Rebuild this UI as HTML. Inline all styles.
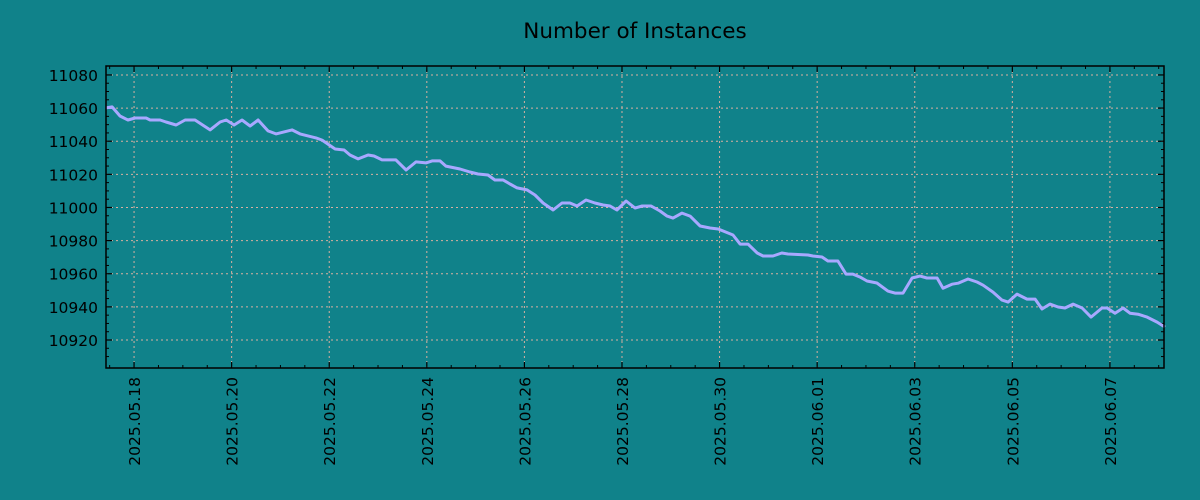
<!DOCTYPE html>
<html><head><meta charset="utf-8"><style>
html,body{margin:0;padding:0;background:#10828a;}
svg{display:block;font-family:"DejaVu Sans","Liberation Sans",sans-serif;}
</style></head><body>
<svg id="chart" width="1200" height="500" viewBox="0 0 1200 500">
<rect x="0" y="0" width="1200" height="500" fill="#10828a"/>
<text x="635" y="38" text-anchor="middle" font-size="21.5" fill="#000">Number of Instances</text>
<g id="grid"></g>
<g id="ticks"></g>
<path id="line" fill="none" stroke="#a8a8ff" stroke-width="3" stroke-linejoin="round"/>
<rect x="106" y="66" width="1058" height="302" fill="none" stroke="#000" stroke-width="1.5"/>
</svg>
<script>
// hours since 2025-05-17 00:00
const hours = [10.2,13.2,17.1,21.0,24.5,29.9,31.9,36.8,39.7,44.7,49.1,54.0,61.4,66.3,69.3,73.2,77.1,81.1,85.0,89.9,93.8,101.7,105.6,113.5,116.5,122.9,127.3,130.2,134.2,139.1,142.0,146.0,152.8,157.8,162.7,167.6,170.6,174.5,177.4,184.3,189.2,193.2,198.1,201.5,205.5,208.9,212.4,217.3,221.2,225.2,230.1,234.5,238.4,241.9,246.3,250.7,254.7,258.1,261.5,266.0,270.4,273.9,278.3,282.7,286.2,289.1,293.5,297.5,302.4,307.3,311.3,316.2,318.6,322.1,326.0,330.5,333.4,338.3,342.6,345.6,355.5,357.9,362.4,365.3,370.2,374.2,377.6,381.1,384.5,389.4,394.8,398.3,402.2,406.7,410.6,414.0,419.0,421.9,426.3,429.3,434.2,438.6,441.6,446.5,450.9,453.9,458.3,463.2,467.2,470.6,474.5,478.5,481.9,485.9,490.3,494.7,500.1,502.6,506.5,510.5,513.9,517.8,522.3,527.2,531.1];
const instances = [11060.1,11060.7,11055.2,11052.8,11054.0,11054.0,11052.8,11052.8,11051.6,11049.8,11052.8,11052.8,11046.8,11051.6,11052.8,11049.8,11052.8,11049.2,11052.8,11046.2,11044.4,11046.8,11044.4,11042.0,11040.7,11035.3,11034.7,11031.7,11029.3,11031.7,11031.1,11028.7,11028.7,11022.6,11027.5,11026.9,11028.1,11028.1,11025.0,11023.2,11021.4,11020.2,11019.6,11016.6,11016.6,11014.2,11011.8,11010.6,11007.5,11002.7,10998.5,11002.7,11002.7,11000.9,11004.5,11002.7,11001.5,11000.9,10998.5,11003.9,10999.7,11000.9,11000.9,10997.9,10994.8,10993.6,10996.6,10994.8,10988.8,10987.6,10987.0,10984.6,10983.4,10977.9,10977.9,10972.5,10970.7,10970.7,10972.5,10971.9,10971.3,10970.7,10970.1,10967.7,10967.7,10959.8,10959.8,10958.0,10955.6,10954.4,10949.5,10948.3,10948.3,10957.4,10958.6,10957.4,10957.4,10951.3,10953.7,10954.3,10956.8,10955.0,10953.1,10948.9,10944.1,10942.9,10947.7,10944.7,10944.7,10938.7,10941.7,10939.9,10939.3,10941.7,10939.3,10933.8,10939.3,10939.3,10936.2,10939.3,10936.2,10935.6,10933.8,10930.8,10927.8];
const yTicks = [10920,10940,10960,10980,11000,11020,11040,11060,11080];
const xTickHours = [24,72,120,168,216,264,312,360,408,456,504];
const xTickLabels = ["2025.05.18","2025.05.20","2025.05.22","2025.05.24","2025.05.26","2025.05.28","2025.05.30","2025.06.01","2025.06.03","2025.06.05","2025.06.07"];

const L=106,R=1164,T=66,B=368;
const x0=10.2,x1=530.6,y0=10903.1,y1=11085.4;
const xs=h=>L+(h-x0)/(x1-x0)*(R-L);
const ys=v=>B-(v-y0)/(y1-y0)*(B-T);
const NS="http://www.w3.org/2000/svg";
const grid=document.getElementById('grid'), ticks=document.getElementById('ticks');
function mk(tag,attrs,parent){const e=document.createElementNS(NS,tag);for(const k in attrs)e.setAttribute(k,attrs[k]);parent.appendChild(e);return e;}

yTicks.forEach(v=>{
  const y=ys(v);
  const g=mk('line',{x1:L,x2:R,y1:y,y2:y,stroke:'#d8b0a0','stroke-width':1,'stroke-dasharray':'2,3'},grid);
  
  
  const t1=mk('line',{x1:L,x2:L+6,y1:y,y2:y,stroke:'#000','stroke-width':1.2},ticks);
  
  
  const t2=mk('line',{x1:R-6,x2:R,y1:y,y2:y,stroke:'#000','stroke-width':1.2},ticks);
  
  
  const lab=mk('text',{x:98,y:y+6,'text-anchor':'end','font-size':15.5,fill:'#000'},ticks);
  lab.textContent=v;
  
  
});
for(let v=10910;v<11085;v+=5){ if(v%20===0) continue; const y=ys(v);
  mk('line',{x1:L,x2:L+3,y1:y,y2:y,stroke:'#000','stroke-width':1},ticks);
  mk('line',{x1:R-3,x2:R,y1:y,y2:y,stroke:'#000','stroke-width':1},ticks);
}
xTickHours.forEach((h,i)=>{
  const x=xs(h);
  const g=mk('line',{x1:x,x2:x,y1:T,y2:B,stroke:'#d8b0a0','stroke-width':1,'stroke-dasharray':'2,3'},grid);
  
  
  const t1=mk('line',{x1:x,x2:x,y1:B-6,y2:B,stroke:'#000','stroke-width':1.2},ticks);
  
  
  mk('line',{x1:x,x2:x,y1:T,y2:T+6,stroke:'#000','stroke-width':1.2},ticks);
  const lab=mk('text',{x:0,y:0,'text-anchor':'end','font-size':15.5,fill:'#000',transform:`translate(${x+6},377) rotate(-90)`},ticks);
  lab.textContent=xTickLabels[i];
  
  
});
for(let h=12;h<x1;h+=12){ if((h-24)%48===0) continue; const x=xs(h); if(x<L) continue;
  mk('line',{x1:x,x2:x,y1:B-3,y2:B,stroke:'#000','stroke-width':1},ticks);
  mk('line',{x1:x,x2:x,y1:T,y2:T+3,stroke:'#000','stroke-width':1},ticks);
}
let d='';
hours.forEach((h,i)=>{d+=(i?'L':'M')+xs(h).toFixed(1)+','+ys(instances[i]).toFixed(1);});
document.getElementById('line').setAttribute('d',d);
</script>
</body></html>
